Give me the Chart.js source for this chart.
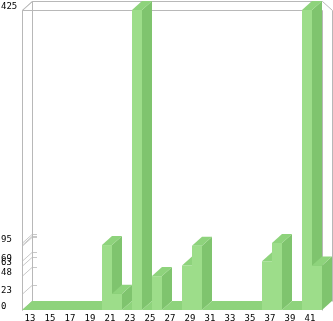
<!DOCTYPE html>
<html>
<head>
<meta charset="utf-8">
<script src="https://cdn.jsdelivr.net/npm/chart.js@4"></script>
<style>
  html, body { margin: 0; padding: 0; background: #fff; }
  #wrap { width: 333px; height: 321px; }
</style>
</head>
<body>
<div id="wrap"><canvas id="chart"></canvas></div>
<script>
// --- data ---
const categories = ['13','14','15','16','17','18','19','20','21','22','23','24','25','26','27',
                    '28','29','30','31','32','33','34','35','36','37','38','39','40','41','42'];
const values = [0, 0, 0, 0, 0, 0, 0, 0, 92, 23, 0, 425, 0, 48, 0,
                0, 63, 91, 0, 0, 0, 0, 0, 0, 69, 95, 0, 0, 425, 63];
const yTickValues = [0, 23, 48, 63, 69, 91, 92, 95, 425];
const yTickLabels = ['0', '23', '48', '63', '69', '', '', '95', '425'];

const colors = {
  front: '#9ddd8a',
  top: '#8ed37c',
  side: '#7fc46e',
  frame: '#b8b8b8',
  tick: '#c8c8c8',
  text: '#000000',
};
const depth = { dx: 10, dy: -9 };

function poly(ctx, pts, fill) {
  ctx.beginPath();
  ctx.moveTo(pts[0][0], pts[0][1]);
  for (let i = 1; i < pts.length; i++) ctx.lineTo(pts[i][0], pts[i][1]);
  ctx.closePath();
  ctx.fillStyle = fill;
  ctx.fill();
}

function line(ctx, x1, y1, x2, y2) {
  ctx.beginPath();
  ctx.moveTo(x1, y1);
  ctx.lineTo(x2, y2);
  ctx.stroke();
}

// frame + side wall ticks, drawn behind the bars
const frame3d = {
  id: 'frame3d',
  beforeDatasetsDraw(chart) {
    const { ctx, chartArea: a } = chart;
    const { dx, dy } = depth;
    const yScale = chart.scales.y;
    ctx.save();
    ctx.lineWidth = 1;
    ctx.strokeStyle = colors.tick;
    yScale.ticks.forEach(t => {
      const fy = Math.round(yScale.getPixelForValue(t.value)) + 0.5;
      line(ctx, a.left, fy, a.left + dx, fy + dy);
      line(ctx, a.left + dx, fy + dy, a.left + dx + 5, fy + dy);
    });
    ctx.strokeStyle = colors.frame;
    const L = a.left + 0.5, R = a.right + 0.5, T = a.top + 0.5, B = a.bottom + 0.5;
    line(ctx, L, T, L, B);
    line(ctx, L + dx, T + dy, L + dx, B + dy);
    line(ctx, L, T, L + dx, T + dy);
    line(ctx, L, T, R, T);
    line(ctx, L + dx, T + dy, R, T + dy);
    line(ctx, R, T + dy, R + dx, T);
    line(ctx, R, T, R, B);
    line(ctx, R + dx, T, R + dx, B + dy);
    ctx.restore();
  }
};

// 3D boxes from the bar elements, left to right
const bar3d = {
  id: 'bar3d',
  afterDatasetsDraw(chart) {
    const ctx = chart.ctx;
    const { dx, dy } = depth;
    const meta = chart.getDatasetMeta(0);
    const last = meta.data.length - 1;
    ctx.save();
    meta.data.forEach((bar, i) => {
      const { x, y, base, width } = bar.getProps(['x', 'y', 'base', 'width'], true);
      const l = x - width / 2, r = x + width / 2;
      if (base - y > 0) {
        ctx.fillStyle = colors.front;
        ctx.fillRect(l, y, width, base - y);
        poly(ctx, [[r, y], [r + dx, y + dy], [r + dx, base + dy], [r, base]], colors.side);
        poly(ctx, [[l, y], [r, y], [r + dx, y + dy], [l + dx, y + dy]], colors.top);
      } else {
        // flat box: overlap the next one a little so no seam shows
        const ext = i < last ? 1 : 0;
        poly(ctx, [[l, y], [r + ext, y], [r + dx + ext, y + dy], [l + dx, y + dy]], colors.top);
      }
    });
    ctx.restore();
  }
};

new Chart(document.getElementById('chart'), {
  type: 'bar',
  data: {
    labels: categories,
    datasets: [{
      data: values,
      backgroundColor: 'transparent',
      borderWidth: 0,
      categoryPercentage: 1,
      barPercentage: 1,
    }]
  },
  options: {
    responsive: true,
    maintainAspectRatio: false,
    animation: false,
    layout: { padding: { left: 1, top: 10, right: 11, bottom: 0 } },
    plugins: {
      legend: { display: false },
      tooltip: { enabled: false },
    },
    scales: {
      x: {
        grid: { display: false, drawTicks: false },
        border: { display: false },
        afterFit: (s) => { s.height = 11; },
        ticks: {
          autoSkip: false,
          maxRotation: 0,
          padding: 3,
          labelOffset: 3,
          color: colors.text,
          font: { family: "'DejaVu Sans Mono'", size: 9 },
          callback: (v, i) => (i % 2 === 0 ? categories[i] : ''),
        }
      },
      y: {
        min: 0,
        max: 425,
        grid: { display: false, drawTicks: false },
        border: { display: false },
        afterFit: (s) => { s.width = 21; },
        afterBuildTicks: (s) => { s.ticks = yTickValues.map(v => ({ value: v })); },
        ticks: {
          autoSkip: false,
          crossAlign: 'far',
          padding: 0,
          labelOffset: -3,
          color: colors.text,
          font: { family: "'DejaVu Sans Mono'", size: 9 },
          callback: (v) => yTickLabels[yTickValues.indexOf(v)],
        }
      }
    }
  },
  plugins: [frame3d, bar3d]
});
</script>
</body>
</html>
